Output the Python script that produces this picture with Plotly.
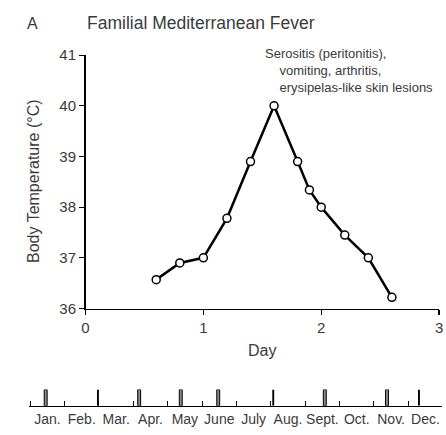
import plotly.graph_objects as go

# Main fever curve
days = [0.6, 0.8, 1.0, 1.2, 1.4, 1.6, 1.8, 1.9, 2.0, 2.2, 2.4, 2.6]
temps = [36.57, 36.9, 37.0, 37.78, 38.9, 40.0, 38.9, 38.34, 38.0, 37.45, 37.0, 36.22]
x_ticks = [0, 1, 2, 3]
y_ticks = [36, 37, 38, 39, 40, 41]

# Attack calendar strip (positions in months from Jan 1)
months = ["Jan.", "Feb.", "Mar.", "Apr.", "May", "June", "July", "Aug.", "Sept.", "Oct.", "Nov.", "Dec."]
gray_attacks = [0.45, 3.17, 4.38, 5.47, 8.57, 10.38]
black_attacks = [1.97, 7.07, 11.31]

W, H = 446, 435
def px_x(p): return p / W
def px_y(p): return (H - p) / H

FONT = "Liberation Sans, Arial, sans-serif"
TXT = "#3a3a3a"

fig = go.Figure()
fig.add_trace(go.Scatter(
    x=days, y=temps, mode="lines+markers",
    line=dict(color="black", width=2.5),
    marker=dict(symbol="circle", size=8, color="white", line=dict(color="black", width=1.5)),
    xaxis="x", yaxis="y", showlegend=False, cliponaxis=False, hoverinfo="skip"))

fig.add_trace(go.Bar(
    x=gray_attacks, y=[1] * len(gray_attacks), base=0, width=[0.085] * len(gray_attacks),
    marker=dict(color="#8a8a8a", line=dict(color="black", width=1)),
    xaxis="x2", yaxis="y2", showlegend=False, hoverinfo="skip"))
fig.add_trace(go.Bar(
    x=black_attacks, y=[1] * len(black_attacks), base=0, width=[0.055] * len(black_attacks),
    marker=dict(color="black", line=dict(color="black", width=0)),
    xaxis="x2", yaxis="y2", showlegend=False, hoverinfo="skip"))

x2_lo = -1.7 / 35
x2_hi = (446 - 26.7) / 35

fig.update_layout(
    width=W, height=H, autosize=False,
    margin=dict(l=0, r=0, t=0, b=0),
    paper_bgcolor="white", plot_bgcolor="white",
    barmode="overlay", hovermode=False,
    font=dict(family=FONT, color=TXT, size=15),
    xaxis=dict(domain=[px_x(83), px_x(443)], range=[0, 3], tickvals=x_ticks,
               showline=True, linecolor="black", linewidth=1.5, ticks="outside",
               ticklen=5, tickwidth=1.2, tickcolor="black", showgrid=False, zeroline=False,
               tickfont=dict(size=15, color=TXT), ticklabeloverflow="allow",
               anchor="y"),
    yaxis=dict(domain=[px_y(311.7), px_y(48)], range=[36, 41], tickvals=y_ticks,
               showline=True, linecolor="black", linewidth=1.5, ticks="outside",
               ticklen=5, tickwidth=1.2, tickcolor="black", showgrid=False, zeroline=False,
               tickfont=dict(size=15, color=TXT),
               anchor="x"),
    xaxis2=dict(domain=[px_x(25), 1.0], range=[x2_lo, x2_hi],
                tickvals=[i + 0.5 for i in range(12)], ticktext=months, ticks="",
                tickangle=0, ticklabeloverflow="allow",
                showline=True, linecolor="black", linewidth=1.5, showgrid=False, zeroline=False,
                tickfont=dict(size=14, color=TXT),
                minor=dict(tickmode="array", tickvals=list(range(13)), ticks="inside",
                           ticklen=5, tickwidth=1, tickcolor="black"),
                anchor="y2"),
    yaxis2=dict(domain=[px_y(413), px_y(396)], range=[0, 1], visible=False, anchor="x2"),
)

fig.add_annotation(text="A", x=px_x(29), y=px_y(15), xref="paper", yref="paper",
                   showarrow=False, font=dict(size=16, color=TXT), xanchor="center", yanchor="middle")
fig.add_annotation(text="Familial Mediterranean Fever", x=px_x(82), y=px_y(15), xref="paper", yref="paper",
                   showarrow=False, font=dict(size=17.5, color=TXT), xanchor="left", yanchor="middle")
fig.add_annotation(text="Body Temperature (°C)", x=px_x(30), y=px_y(178.5), xref="paper", yref="paper",
                   textangle=-90, showarrow=False, font=dict(size=16, color=TXT),
                   xanchor="center", yanchor="middle")
fig.add_annotation(text="Day", x=px_x(263), y=px_y(355), xref="paper", yref="paper",
                   showarrow=False, font=dict(size=16, color=TXT), xanchor="center", yanchor="middle")
fig.add_annotation(
    text="Serositis (peritonitis),<br>&nbsp;&nbsp;&nbsp;&nbsp;vomiting, arthritis,"
         "<br>&nbsp;&nbsp;&nbsp;&nbsp;erysipelas-like skin lesions",
    x=px_x(264), y=px_y(36), xref="paper", yref="paper", align="left",
    showarrow=False, font=dict(size=13, color=TXT), xanchor="left", yanchor="top")

fig.write_html("out.html", config={"displayModeBar": False, "staticPlot": True},
               post_script="document.body.style.margin='0';document.body.style.overflow='hidden';")
